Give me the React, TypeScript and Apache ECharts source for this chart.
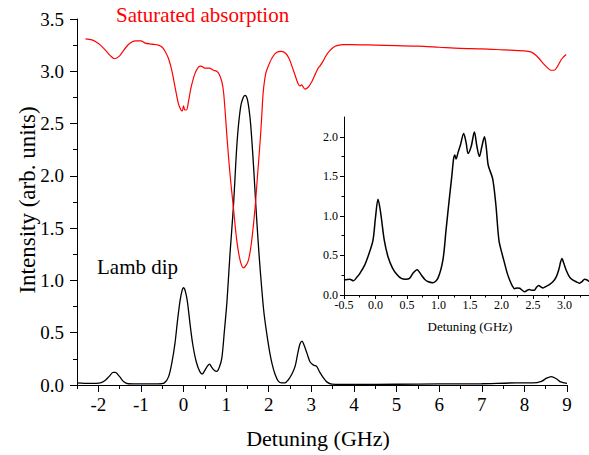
import React, { useEffect, useRef } from 'react';
import * as echarts from 'echarts';

// Main chart: Lamb dip (black)
const lambX = [-2.5, -2.2, -1.95, -1.85, -1.75, -1.65, -1.6, -1.5, -1.4, -1.3, -1.0, -0.6, -0.45, -0.35, -0.27, -0.2, -0.14, -0.08, -0.03, 0, 0.04, 0.09, 0.16, 0.22, 0.3, 0.38, 0.44, 0.5, 0.56, 0.61, 0.66, 0.72, 0.78, 0.84, 0.9, 0.96, 1.02, 1.09, 1.17, 1.26, 1.34, 1.4, 1.445, 1.5, 1.56, 1.6, 1.65, 1.7, 1.75, 1.8, 1.88, 1.95, 2.02, 2.08, 2.15, 2.22, 2.3, 2.38, 2.46, 2.55, 2.62, 2.68, 2.73, 2.78, 2.83, 2.9, 2.97, 3.05, 3.12, 3.2, 3.28, 3.36, 3.48, 4, 5, 6, 7, 7.8, 8.2, 8.4, 8.52, 8.63, 8.75, 8.85, 9.0];
const lambY = [0.02, 0.015, 0.02, 0.04, 0.08, 0.12, 0.12, 0.08, 0.03, 0.012, 0.01, 0.01, 0.02, 0.08, 0.22, 0.4, 0.62, 0.81, 0.91, 0.93, 0.9, 0.8, 0.56, 0.38, 0.22, 0.13, 0.105, 0.14, 0.18, 0.2, 0.17, 0.14, 0.13, 0.17, 0.26, 0.52, 0.8, 1.25, 1.7, 2.34, 2.66, 2.75, 2.77, 2.73, 2.56, 2.36, 2.05, 1.7, 1.38, 1.1, 0.72, 0.5, 0.32, 0.2, 0.1, 0.04, 0.02, 0.02, 0.05, 0.11, 0.18, 0.3, 0.39, 0.42, 0.38, 0.3, 0.22, 0.19, 0.18, 0.12, 0.07, 0.03, 0.008, 0.005, 0.007, 0.01, 0.012, 0.02, 0.02, 0.035, 0.065, 0.08, 0.06, 0.03, 0.015];

// Main chart: saturated absorption (red)
const satX = [-2.3, -2.15, -2.05, -1.95, -1.83, -1.72, -1.62, -1.52, -1.44, -1.35, -1.25, -1.13, -1.0, -0.9, -0.75, -0.59, -0.5, -0.43, -0.35, -0.27, -0.19, -0.12, -0.06, -0.03, 0, 0.03, 0.07, 0.12, 0.18, 0.27, 0.35, 0.41, 0.5, 0.6, 0.7, 0.78, 0.84, 0.9, 0.94, 0.98, 1.02, 1.09, 1.17, 1.25, 1.33, 1.41, 1.52, 1.6, 1.68, 1.74, 1.8, 1.84, 1.87, 1.93, 1.99, 2.08, 2.18, 2.3, 2.4, 2.48, 2.56, 2.62, 2.68, 2.73, 2.77, 2.85, 2.93, 3.01, 3.1, 3.16, 3.2, 3.28, 3.36, 3.44, 3.52, 3.6, 3.75, 3.9, 4.5, 5, 5.5, 6, 6.5, 7, 7.5, 8.0, 8.15, 8.25, 8.35, 8.45, 8.55, 8.62, 8.7, 8.78, 8.88, 8.98];
const satY = [3.31, 3.3, 3.28, 3.25, 3.2, 3.15, 3.12, 3.14, 3.18, 3.23, 3.27, 3.29, 3.29, 3.27, 3.26, 3.25, 3.23, 3.19, 3.12, 3.0, 2.83, 2.69, 2.63, 2.62, 2.67, 2.63, 2.63, 2.72, 2.85, 2.98, 3.04, 3.05, 3.03, 3.03, 3.01, 3.0, 2.97, 2.9, 2.8, 2.6, 2.37, 2.02, 1.7, 1.38, 1.19, 1.12, 1.19, 1.38, 1.7, 2.02, 2.34, 2.6, 2.8, 2.98, 3.05, 3.13, 3.18, 3.19, 3.17, 3.12, 3.03, 2.96, 2.89, 2.86, 2.87, 2.83, 2.85, 2.9, 2.98, 3.03, 3.05, 3.1, 3.16, 3.2, 3.23, 3.245, 3.255, 3.255, 3.25, 3.245, 3.24, 3.23, 3.22, 3.215, 3.205, 3.195, 3.185, 3.16, 3.12, 3.07, 3.03, 3.01, 3.01, 3.05, 3.12, 3.16];

// Inset
const insetX = [-0.5, -0.41, -0.35, -0.3, -0.25, -0.17, -0.1, -0.04, 0.0, 0.04, 0.08, 0.14, 0.2, 0.27, 0.34, 0.41, 0.48, 0.54, 0.59, 0.66, 0.73, 0.78, 0.83, 0.91, 0.99, 1.07, 1.12, 1.17, 1.21, 1.24, 1.26, 1.28, 1.31, 1.35, 1.4, 1.44, 1.47, 1.52, 1.57, 1.61, 1.65, 1.69, 1.73, 1.76, 1.79, 1.86, 1.91, 1.96, 2.01, 2.05, 2.09, 2.13, 2.17, 2.21, 2.25, 2.29, 2.33, 2.37, 2.41, 2.44, 2.48, 2.52, 2.56, 2.59, 2.63, 2.66, 2.71, 2.76, 2.82, 2.87, 2.91, 2.94, 2.96, 2.99, 3.03, 3.08, 3.13, 3.18, 3.24, 3.28, 3.32, 3.36, 3.39];
const insetY = [0.19, 0.2, 0.18, 0.22, 0.27, 0.38, 0.53, 0.69, 0.98, 1.21, 1.05, 0.69, 0.48, 0.34, 0.26, 0.21, 0.2, 0.21, 0.27, 0.32, 0.25, 0.2, 0.17, 0.155, 0.21, 0.44, 0.82, 1.2, 1.49, 1.72, 1.77, 1.72, 1.8, 1.9, 2.04, 1.92, 1.79, 1.88, 2.06, 1.88, 1.75, 1.88, 2.0, 1.86, 1.64, 1.47, 1.15, 0.69, 0.52, 0.4, 0.28, 0.19, 0.12, 0.08, 0.09, 0.085, 0.06, 0.04, 0.06, 0.07, 0.06, 0.06, 0.1, 0.12, 0.1, 0.09, 0.11, 0.13, 0.17, 0.23, 0.32, 0.42, 0.46, 0.4, 0.31, 0.23, 0.19, 0.17, 0.15, 0.17, 0.2, 0.19, 0.17];

// Tick positions
const mainXTicks = [-2, -1, 0, 1, 2, 3, 4, 5, 6, 7, 8, 9];
const mainXMinor = [-2.5, -1.5, -0.5, 0.5, 1.5, 2.5, 3.5, 4.5, 5.5, 6.5, 7.5, 8.5];
const mainYTicks = [0, 0.5, 1, 1.5, 2, 2.5, 3, 3.5];
const mainYMinor = [0.25, 0.75, 1.25, 1.75, 2.25, 2.75, 3.25];
const insetXTicks = [-0.5, 0, 0.5, 1, 1.5, 2, 2.5, 3];
const insetXMinor = [-0.25, 0.25, 0.75, 1.25, 1.75, 2.25, 2.75, 3.25];
const insetYTicks = [0, 0.5, 1, 1.5, 2];
const insetYMinor = [0.25, 0.75, 1.25, 1.75];

const FAMILY = 'Liberation Serif';
const FALLBACK_FAMILY = 'DejaVu Serif';

const pairs = (xs: number[], ys: number[]) => xs.map((x, i) => [x, ys[i]]);

function majorAxis(gridIndex: number, min: number, max: number, ticks: number[], pos: string, tickLen: number, fontSize: number, margin: number, decimals: number, showLabel: boolean) {
  return {
    type: 'value', gridIndex, min, max, position: pos,
    axisLine: { show: true, onZero: false, lineStyle: { color: '#000', width: 1 } },
    axisTick: { show: true, inside: false, length: tickLen, customValues: ticks, lineStyle: { color: '#000', width: 1 } },
    axisLabel: {
      show: showLabel, customValues: ticks, margin,
      formatter: (v: number) => v.toFixed(decimals),
      color: '#000', fontSize, fontFamily: FALLBACK_FAMILY,
    },
    splitLine: { show: false },
  };
}
function minorAxis(gridIndex: number, min: number, max: number, ticks: number[], pos: string, tickLen: number) {
  return {
    type: 'value', gridIndex, min, max, position: pos,
    axisLine: { show: false, onZero: false },
    axisTick: { show: true, inside: false, length: tickLen, customValues: ticks, lineStyle: { color: '#000', width: 1 } },
    axisLabel: { show: false },
    splitLine: { show: false },
  };
}

function axesOption(showLabels: boolean) {
  return {
    xAxis: [
      majorAxis(0, -2.5, 9, mainXTicks, 'bottom', 7, 16, 11, 0, showLabels),
      minorAxis(0, -2.5, 9, mainXMinor, 'bottom', 4),
      majorAxis(1, -0.5, 3.39, insetXTicks, 'bottom', 4, 10, 3, 1, showLabels),
      minorAxis(1, -0.5, 3.39, insetXMinor, 'bottom', 2.5),
    ],
    yAxis: [
      majorAxis(0, 0, 3.5, mainYTicks, 'left', 7, 16, 13, 1, showLabels),
      minorAxis(0, 0, 3.5, mainYMinor, 'left', 4),
      majorAxis(1, 0, 2.25, insetYTicks, 'left', 4, 10, 6, 1, showLabels),
      minorAxis(1, 0, 2.25, insetYMinor, 'left', 2.5),
    ],
  };
}

const titles = [
  { type: 'text', x: 116, y: 15, style: { text: 'Saturated absorption', fill: '#ff0000', font: `21px ${FAMILY}`, align: 'left', verticalAlign: 'middle' } },
  { type: 'text', x: 97, y: 267, style: { text: 'Lamb dip', fill: '#000', font: `21px ${FAMILY}`, align: 'left', verticalAlign: 'middle' } },
  { type: 'text', x: 318, y: 438, style: { text: 'Detuning (GHz)', fill: '#000', font: `22px ${FAMILY}`, align: 'center', verticalAlign: 'middle' } },
  { type: 'text', x: 27, y: 200, rotation: Math.PI / 2, style: { text: 'Intensity (arb. units)', fill: '#000', font: `23px ${FAMILY}`, align: 'center', verticalAlign: 'middle' } },
  { type: 'text', x: 470, y: 326, style: { text: 'Detuning (GHz)', fill: '#000', font: `13px ${FAMILY}`, align: 'center', verticalAlign: 'middle' } },
];

export default function App() {
  const ref = useRef<HTMLDivElement>(null);
  useEffect(() => {
    if (!ref.current) return;
    const chart = echarts.init(ref.current, undefined, { renderer: 'svg' });
    chart.setOption({
      animation: false,
      backgroundColor: '#ffffff',
      textStyle: { color: '#000' },
      grid: [
        { left: 77, top: 19, width: 490, height: 366 },
        { left: 344, top: 117, width: 245, height: 178 },
      ],
      ...axesOption(false),
      series: [
        {
          type: 'line', xAxisIndex: 0, yAxisIndex: 0, data: pairs(lambX, lambY),
          showSymbol: false, symbol: 'none', smooth: 0.3,
          lineStyle: { color: '#000', width: 1.3 },
        },
        {
          type: 'line', xAxisIndex: 0, yAxisIndex: 0, data: pairs(satX, satY),
          showSymbol: false, symbol: 'none', smooth: 0.3,
          lineStyle: { color: '#ff0000', width: 1.2 },
        },
        {
          type: 'line', xAxisIndex: 2, yAxisIndex: 2, data: pairs(insetX, insetY),
          showSymbol: false, symbol: 'none', smooth: 0.3,
          lineStyle: { color: '#000', width: 1.5 },
        },
      ],
    });
    try {
      const labels: any[] = [];
      const addX = (grid: number, ticks: number[], dec: number, size: number, margin: number, yMin: number) => {
        ticks.forEach((v) => {
          const p = chart.convertToPixel({ gridIndex: grid }, [v, yMin]) as number[];
          if (!p || isNaN(p[0])) throw new Error('no pixel');
          labels.push({ type: 'text', x: p[0], y: p[1] + margin, silent: true, style: { text: v.toFixed(dec), fill: '#000', font: `${size}px ${FAMILY}`, align: 'center', verticalAlign: 'top' } });
        });
      };
      const addY = (grid: number, ticks: number[], xMin: number, size: number, margin: number) => {
        ticks.forEach((v) => {
          const p = chart.convertToPixel({ gridIndex: grid }, [xMin, v]) as number[];
          if (!p || isNaN(p[1])) throw new Error('no pixel');
          labels.push({ type: 'text', x: p[0] - margin, y: p[1], silent: true, style: { text: v.toFixed(1), fill: '#000', font: `${size}px ${FAMILY}`, align: 'right', verticalAlign: 'middle' } });
        });
      };
      addX(0, mainXTicks, 0, 19, 10, 0);
      addY(0, mainYTicks, -2.5, 19, 13);
      addX(1, insetXTicks, 1, 12, 4, 0);
      addY(1, insetYTicks, -0.5, 12, 6);
      chart.setOption({ graphic: [...titles, ...labels] });
    } catch (e) {
      chart.setOption({ ...axesOption(true), graphic: titles });
    }
    return () => chart.dispose();
  }, []);
  return <div ref={ref} style={{ position: 'fixed', left: 0, top: 0, width: 589, height: 455, background: '#fff' }} />;
}
